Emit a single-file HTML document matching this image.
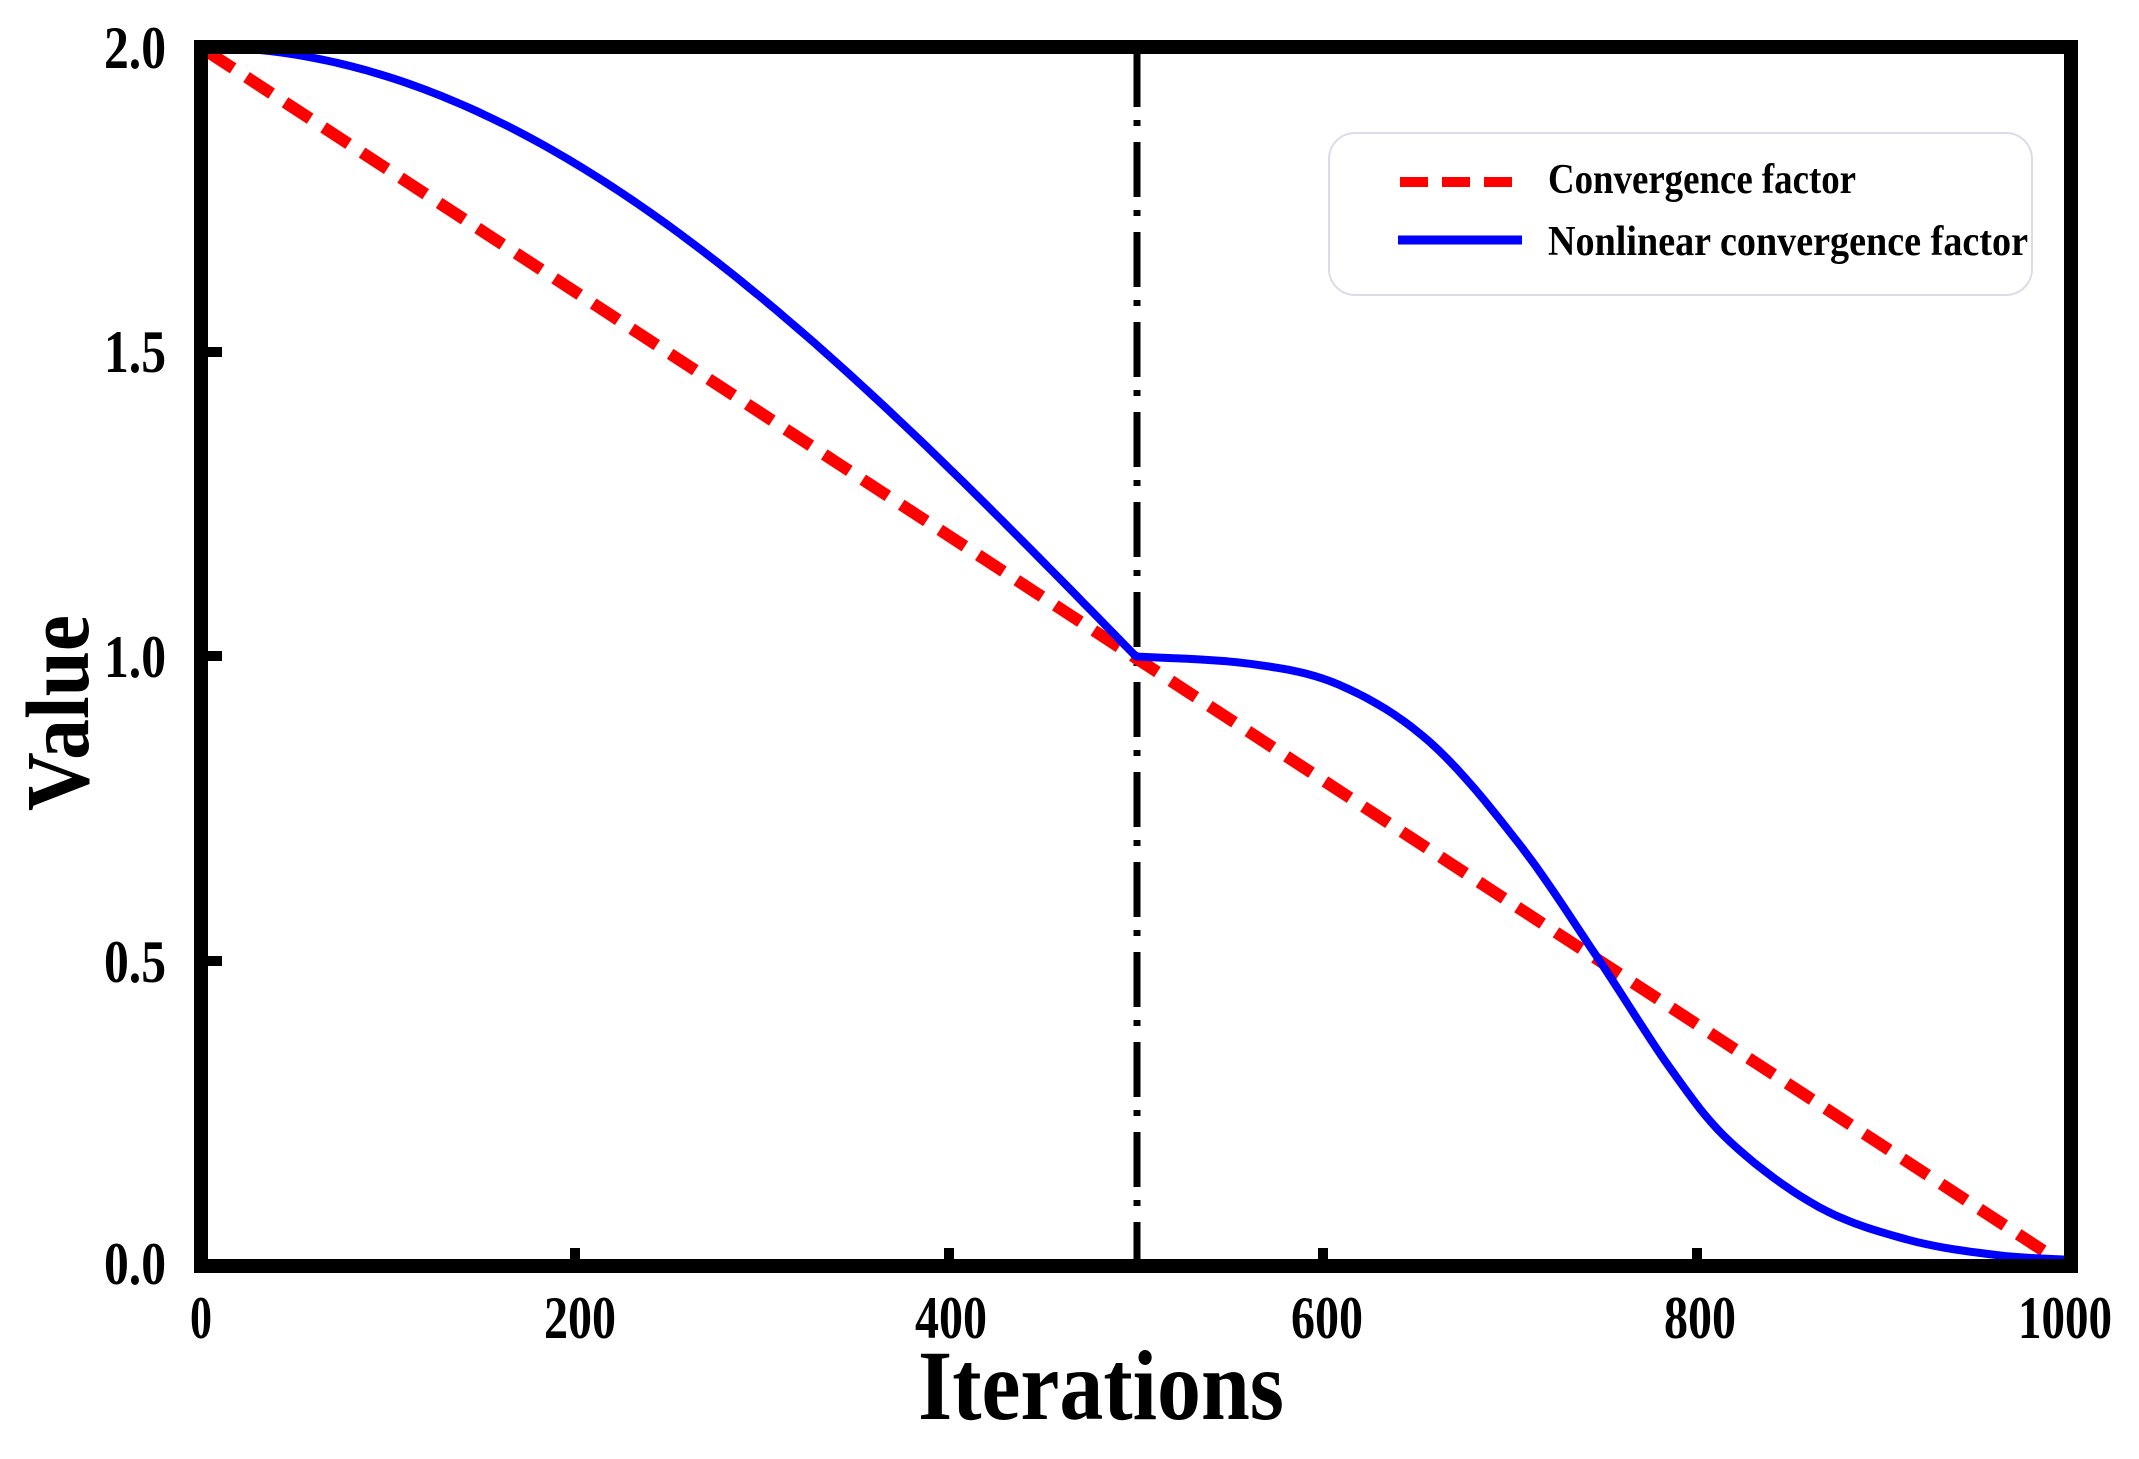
<!DOCTYPE html>
<html><head><meta charset="utf-8"><style>
html,body{margin:0;padding:0;background:#fff;}
svg{display:block;}
text{font-family:"Liberation Serif",serif;font-weight:bold;fill:#000;}
</style></head><body>
<svg width="2139" height="1459" viewBox="0 0 2139 1459" xmlns="http://www.w3.org/2000/svg">
<line x1="1137" y1="52" x2="1137" y2="1260" stroke="#000" stroke-width="7" stroke-dasharray="55 13 6 16"/>
<line x1="208" y1="52" x2="2050" y2="1255" stroke="#ff0000" stroke-width="12" stroke-dasharray="30 16"/>
<path id="blue" d="" fill="none" stroke="#0000ff" stroke-width="8" stroke-linejoin="round"/>
<rect x="201" y="47" width="1870" height="1219" fill="none" stroke="#000" stroke-width="14"/>
<g stroke="#000" stroke-width="10">
<line x1="201" y1="352" x2="222" y2="352"/>
<line x1="201" y1="656" x2="222" y2="656"/>
<line x1="201" y1="961" x2="222" y2="961"/>
<line x1="575" y1="1266" x2="575" y2="1248"/>
<line x1="949" y1="1266" x2="949" y2="1248"/>
<line x1="1323" y1="1266" x2="1323" y2="1248"/>
<line x1="1697" y1="1266" x2="1697" y2="1248"/>
</g>
<g font-size="60" text-anchor="end">
<text x="166" y="68" textLength="62" lengthAdjust="spacingAndGlyphs">2.0</text>
<text x="166" y="372" textLength="62" lengthAdjust="spacingAndGlyphs">1.5</text>
<text x="166" y="677" textLength="62" lengthAdjust="spacingAndGlyphs">1.0</text>
<text x="166" y="982" textLength="62" lengthAdjust="spacingAndGlyphs">0.5</text>
<text x="166" y="1284" textLength="62" lengthAdjust="spacingAndGlyphs">0.0</text>
</g>
<g font-size="60" text-anchor="middle">
<text x="201" y="1338" textLength="22" lengthAdjust="spacingAndGlyphs">0</text>
<text x="580" y="1338" textLength="72" lengthAdjust="spacingAndGlyphs">200</text>
<text x="951" y="1338" textLength="72" lengthAdjust="spacingAndGlyphs">400</text>
<text x="1327" y="1338" textLength="72" lengthAdjust="spacingAndGlyphs">600</text>
<text x="1700" y="1338" textLength="72" lengthAdjust="spacingAndGlyphs">800</text>
<text x="2065" y="1338" textLength="94" lengthAdjust="spacingAndGlyphs">1000</text>
</g>
<text x="918" y="1419" font-size="100" textLength="366" lengthAdjust="spacingAndGlyphs">Iterations</text>
<text transform="translate(88,811) rotate(-90)" font-size="90" textLength="196" lengthAdjust="spacingAndGlyphs">Value</text>
<rect x="1329" y="133" width="703" height="162" rx="26" ry="26" fill="#fff" stroke="#dcdce8" stroke-width="2"/>
<line x1="1400" y1="182" x2="1522" y2="182" stroke="#ff0000" stroke-width="10" stroke-dasharray="28 14"/>
<line x1="1398" y1="240" x2="1522" y2="240" stroke="#0000ff" stroke-width="9"/>
<text x="1548" y="193" font-size="42" textLength="308" lengthAdjust="spacingAndGlyphs">Convergence  factor</text>
<text x="1548" y="255" font-size="42" textLength="480" lengthAdjust="spacingAndGlyphs">Nonlinear  convergence  factor</text>
</svg>
<script>
(function(){
var X=function(t){return 201+1.87*t;}, Y=function(v){return 1266-609.5*v;};
var pts=[];
for(var t=4;t<=500;t+=4){pts.push([X(t),Y(1+Math.cos(Math.PI/2*t/500))]);}
var d=[[500,1.0],[561,0.988],[609,0.953],[657,0.86],[705,0.692],[747,0.505],[786,0.323],[818,0.203],[865,0.097],[913,0.043],[960,0.018],[1000,0.01]];
// Catmull-Rom sampling
function cr(p0,p1,p2,p3,u){var u2=u*u,u3=u2*u;return 0.5*((2*p1)+(-p0+p2)*u+(2*p0-5*p1+4*p2-p3)*u2+(-p0+3*p1-3*p2+p3)*u3);}
for(var i=0;i<d.length-1;i++){
 var a=d[Math.max(0,i-1)],b=d[i],c=d[i+1],e=d[Math.min(d.length-1,i+2)];
 for(var k=1;k<=10;k++){var u=k/10;pts.push([X(cr(a[0],b[0],c[0],e[0],u)),Y(cr(a[1],b[1],c[1],e[1],u))]);}
}
var s="M"+X(0)+","+Y(2);
pts.forEach(function(p){s+=" L"+p[0].toFixed(1)+","+p[1].toFixed(1);});
document.getElementById("blue").setAttribute("d",s);
})();
</script>
</body></html>
